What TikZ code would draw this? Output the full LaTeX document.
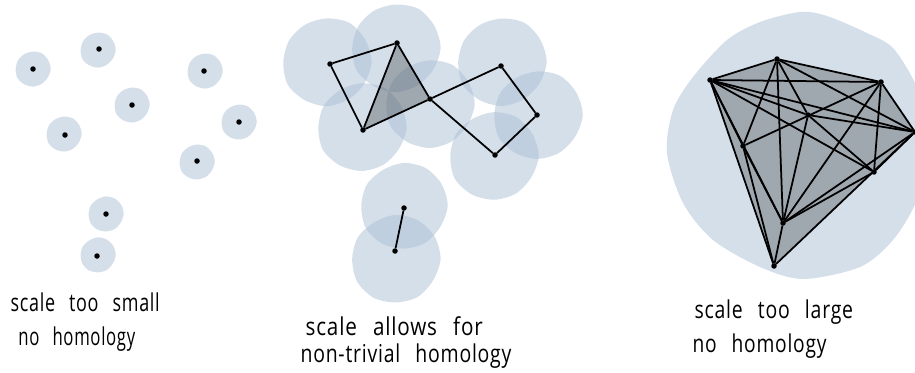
\documentclass[tikz,border=0pt]{standalone}
\usepackage{fontspec}
\setmainfont[WordSpace=2.6,LetterSpace=4]{Open Sans}
\usepackage[dvipsnames]{xcolor}
\usepackage{tikz-network}
\definecolor{blobblue}{RGB}{171,191,213}
\tikzset{
    blob/.style={fill=blobblue,opacity=0.5},
    simplex/.style={fill=black,opacity=0.25},
    dotstyle/.style={inner sep=0pt,draw=none},
    edgeline/.style={draw=black,line width=0.5pt,opacity=1},
    hand/.style={font=\fontsize{7}{8}\selectfont,anchor=base west,inner sep=0pt}
}

\begin{document}
\begin{tikzpicture}
    \pgfmathsetmacro{\width}{9.15}
    \pgfmathsetmacro{\height}{3.72}
    \clip (0,0) rectangle (\width,\height);
    \useasboundingbox (0,0) rectangle (\width,\height);
    % scale too small
    \foreach \name/\x/\y in {a/0.33/3.03,b/0.99/3.23,c/1.32/2.67,d/0.65/2.37,e/2.04/3.01,f/2.39/2.50,g/1.97/2.11,h/1.06/1.58,i/0.97/1.16}
        \Vertex[size=0.055,color=black,opacity=1,style={dotstyle},x=\x,y=\y]{\name};
    % scale allows for
    \foreach \name/\x/\y in {j/3.30/3.08,k/3.97/3.29,l/3.63/2.42,m/4.30/2.73,n/5.01/3.06,o/5.37/2.57,p/4.95/2.17,q/4.04/1.64,r/3.95/1.21}
        \Vertex[size=0.055,color=black,opacity=1,style={dotstyle},x=\x,y=\y]{\name};
    % scale too large
    \foreach \name/\x/\y in {A/7.10/2.92,B/7.77/3.13,C/8.81/2.90,D/9.15/2.40,E/8.08/2.57,F/7.43/2.26,G/8.74/2.00,H/7.83/1.49,I/7.74/1.06}
        \Vertex[size=0.055,color=black,opacity=1,style={dotstyle},x=\x,y=\y]{\name};
    \foreach \u/\v in {j/k,j/l,k/l,k/m,l/m,m/n,n/o,o/p,p/m,q/r}
        \draw[edgeline] (\u) -- (\v);
    \foreach \u/\v in {A/B,A/C,A/D,A/E,A/F,A/G,A/H,A/I,B/C,B/D,B/E,B/F,B/H,C/D,C/F,C/G,C/H,D/E,D/G,D/H,D/I,E/G,E/H,F/H,F/I,G/H,H/I}
        \draw[edgeline] (\u) -- (\v);
    \begin{pgfonlayer}{background}
        \foreach \x/\y/\rad in {0.33/3.03/0.175,0.98/3.22/0.175,1.32/2.67/0.175,0.64/2.38/0.175,2.05/3.01/0.175,2.39/2.50/0.175,1.97/2.10/0.175,1.06/1.58/0.175,0.98/1.17/0.175,3.27/3.10/0.44,3.96/3.24/0.44,3.62/2.45/0.44,4.30/2.68/0.44,5.02/3.10/0.44,5.38/2.57/0.44,4.94/2.16/0.44,4.04/1.66/0.43,3.96/1.13/0.44}
            \fill[blob] plot[smooth cycle,variable=\ang,domain=0:330,samples=12] ({\x+\rad*(1+0.02*sin(3*\x+2*\ang)+0.012*sin(5*\ang+40*\y))*cos(\ang)},{\y+\rad*(1+0.02*sin(3*\x+2*\ang)+0.012*sin(5*\ang+40*\y))*sin(\ang)});
        \fill[blob] plot[smooth cycle] coordinates {(8.00,3.60) (8.27,3.56) (8.67,3.39) (8.93,3.24) (9.15,2.89) (9.27,2.52) (9.28,2.19) (9.17,1.72) (8.93,1.32) (8.60,1.05) (8.03,0.93) (7.60,1.05) (7.13,1.32) (6.83,1.69) (6.67,2.19) (6.73,2.62) (6.93,2.95) (7.27,3.32) (7.60,3.50)};
        \fill[simplex] (k.center) -- (l.center) -- (m.center) -- cycle;
        \fill[simplex] (A.center) -- (B.center) -- (C.center) -- (D.center) -- (G.center) -- (I.center) -- cycle;
    \end{pgfonlayer}
    \node[hand,xscale=0.73] (small) at (0.10,0.61) {scale too small};
    \node[hand,xscale=0.68] (none) at (0.18,0.27) {no homology};
    \node[hand,xscale=0.84] (allows) at (3.05,0.37) {scale allows for};
    \node[hand,xscale=0.79] (trivial) at (3.00,0.10) {non-trivial homology};
    \node[hand,xscale=0.79] (large) at (6.94,0.54) {scale too large};
    \node[hand,xscale=0.78] (nolarge) at (6.92,0.20) {no homology};
\end{tikzpicture}
\end{document}
